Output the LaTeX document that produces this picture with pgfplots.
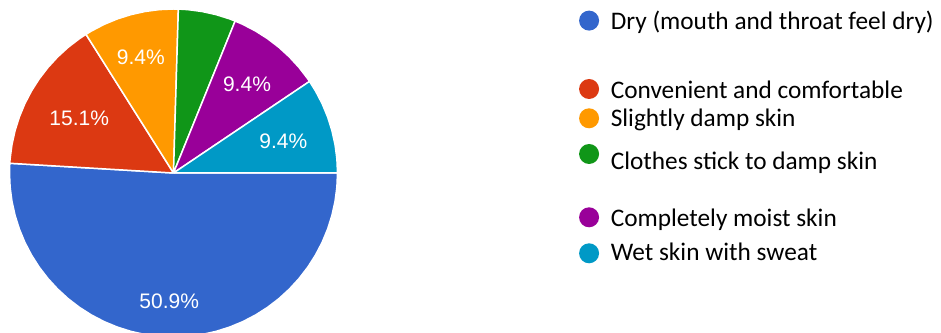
\documentclass[border=0pt]{standalone}
\usepackage{pgfplots}
\pgfplotsset{compat=1.18}
\usepackage{fontspec}
\setmainfont{Liberation Sans}
\newfontfamily\legfont{Carlito}
\newfontfamily\labfont{Liberation Sans}
\definecolor{gBlue}{HTML}{3366CC}
\definecolor{gRed}{HTML}{DC3912}
\definecolor{gOrange}{HTML}{FF9900}
\definecolor{gGreen}{HTML}{109618}
\definecolor{gPurple}{HTML}{990099}
\definecolor{gTeal}{HTML}{0099C6}
\pgfplotsset{
  legcirc/.style={legend image code/.code={\path (0bp,0bp) -- (31bp,0bp); \fill[##1,draw=none] (10bp,#1) circle (10bp);}},
  slice/.style={fill=#1, draw=white, line width=1.5bp, data cs=polar},
}
\tikzset{pct/.style={text=white, inner sep=0pt, anchor=center, font={\labfont\fontsize{21bp}{24bp}\selectfont}}}
\begin{document}
\begin{tikzpicture}
\useasboundingbox (0,0) rectangle (941bp,333bp);
\begin{axis}[
  at={(0bp,0bp)}, anchor=south west,
  scale only axis, width=941bp, height=333bp,
  xmin=-173.5, xmax=767.5, ymin=-160, ymax=173,
  hide axis,
  legend style={at={(0.6146,0.9721)}, anchor=north west, draw=none, fill=none,
    inner sep=0pt, outer sep=0pt, row sep=0pt, column sep=0pt,
    nodes={inner sep=0pt, text depth={}}, cells={anchor=base west},
    font={\legfont\fontsize{25.3bp}{30bp}\selectfont}},
]
% Dry (27 of 53)
\addplot[slice=gBlue, legcirc=8.7bp] coordinates {(0,0) (0,164) (-5,164) (-10,164) (-15,164) (-20,164) (-25,164) (-30,164) (-35,164) (-40,164) (-45,164) (-50,164) (-55,164) (-60,164) (-65,164) (-70,164) (-75,164) (-80,164) (-85,164) (-90,164) (-95,164) (-100,164) (-105,164) (-110,164) (-115,164) (-120,164) (-125,164) (-130,164) (-135,164) (-140,164) (-145,164) (-150,164) (-155,164) (-160,164) (-165,164) (-170,164) (-175,164) (-180,164) (-183.40,164) (0,0)};
\addlegendentry{Dry (mouth and throat feel dry)\rule[-49.4bp]{0pt}{69.4bp}}
% Convenient and comfortable (8 of 53)
\addplot[slice=gRed, legcirc=9.7bp] coordinates {(0,0) (176.60,164) (175,164) (170,164) (165,164) (160,164) (155,164) (150,164) (145,164) (140,164) (135,164) (130,164) (125,164) (122.26,164) (0,0)};
\addlegendentry{Convenient and comfortable\rule[-8bp]{0pt}{28bp}}
% Slightly damp skin (5 of 53)
\addplot[slice=gOrange, legcirc=8.4bp] coordinates {(0,0) (122.26,164) (120,164) (115,164) (110,164) (105,164) (100,164) (95,164) (90,164) (88.30,164) (0,0)};
\addlegendentry{Slightly damp skin\rule[-17.3bp]{0pt}{37.3bp}}
% Clothes stick to damp skin (3 of 53)
\addplot[slice=gGreen, legcirc=16bp] coordinates {(0,0) (88.30,164) (85,164) (80,164) (75,164) (70,164) (67.92,164) (0,0)};
\addlegendentry{Clothes stick to damp skin\rule[-36.7bp]{0pt}{62.7bp}}
% Completely moist skin (5 of 53)
\addplot[slice=gPurple, legcirc=9.4bp] coordinates {(0,0) (67.92,164) (65,164) (60,164) (55,164) (50,164) (45,164) (40,164) (35,164) (33.96,164) (0,0)};
\addlegendentry{Completely moist skin\rule[-14bp]{0pt}{34bp}}
% Wet skin with sweat (5 of 53)
\addplot[slice=gTeal, legcirc=7.4bp] coordinates {(0,0) (33.96,164) (30,164) (25,164) (20,164) (15,164) (10,164) (5,164) (0,164) (0,0)};
\addlegendentry{Wet skin with sweat\rule[-7bp]{0pt}{27bp}}
\node[pct] at (axis cs:-4.3,-128) {50.9\%};
\node[pct] at (axis cs:-94.3,54.2) {15.1\%};
\node[pct] at (axis cs:-32.7,116) {9.4\%};
\node[pct] at (axis cs:73.5,89) {9.4\%};
\node[pct] at (axis cs:109.8,32.2) {9.4\%};
\end{axis}
\end{tikzpicture}
\end{document}
